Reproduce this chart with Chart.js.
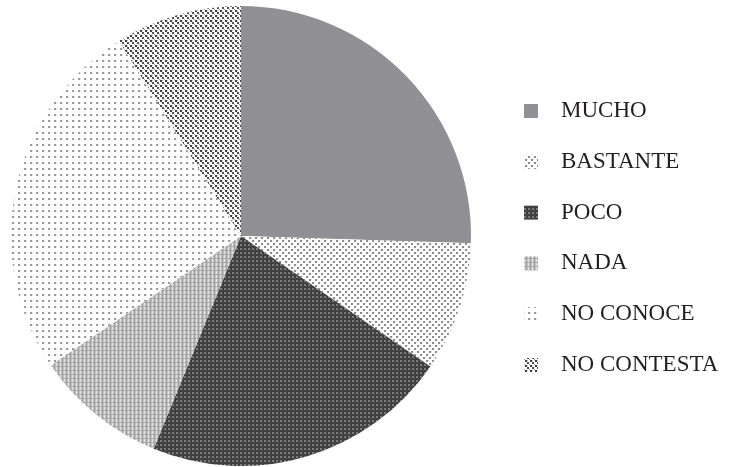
<!DOCTYPE html>
<html>
<head>
<meta charset="utf-8">
<script src="https://cdn.jsdelivr.net/npm/chart.js@4.4.0/dist/chart.umd.min.js"></script>
<style>
  body { margin: 0; background: #fff; }
  #wrap { width: 729px; height: 467px; position: relative; }
</style>
</head>
<body>
<div id="wrap"><canvas id="grafico"></canvas></div>
<script>
// datos (porcentajes aproximados)
var categorias = ['MUCHO', 'BASTANTE', 'POCO', 'NADA', 'NO CONOCE', 'NO CONTESTA'];
var valores = [25.5, 9.1, 21.6, 9.3, 25.6, 8.9];

// tramas tipo semitono, como en el original impreso
function crearTrama(tam, fondo, puntos) {
    var c = document.createElement('canvas');
    c.width = tam;
    c.height = tam;
    var g = c.getContext('2d');
    g.fillStyle = fondo;
    g.fillRect(0, 0, tam, tam);
    puntos.forEach(function (p) {
        g.fillStyle = p[4];
        g.fillRect(p[0], p[1], p[2], p[3]);
    });
    return g.createPattern(c, 'repeat');
}

var ctx = document.getElementById('grafico').getContext('2d');

var tramas = [
    // MUCHO - gris medio fino
    crearTrama(2, '#8b8b8f', [[0, 0, 1, 1, '#96969a'], [1, 1, 1, 1, '#96969a']]),
    // BASTANTE - puntos grises en diagonal
    crearTrama(6, '#ffffff', [[0, 0, 2, 2, '#8c8c8c'], [3, 3, 2, 2, '#8c8c8c'], [2, 0, 1, 1, '#e4e4e4'], [5, 3, 1, 1, '#e4e4e4']]),
    // POCO - oscuro con puntos claros
    crearTrama(4, '#3e3e3e', [[0, 0, 2, 2, '#7c7c7c'], [2, 2, 1, 1, '#5a5a5a']]),
    // NADA - malla gris clara
    crearTrama(4, '#c4c4c4', [[0, 0, 1, 4, '#e6e6e6'], [2, 0, 1, 4, '#9c9c9c'], [0, 2, 4, 1, '#a8a8a8']]),
    // NO CONOCE - puntos grises espaciados
    crearTrama(6, '#ffffff', [[0, 0, 2, 2, '#9a9a9a'], [2, 0, 1, 2, '#e8e8e8']]),
    // NO CONTESTA - puntos oscuros sobre blanco
    crearTrama(5, '#ffffff', [[0, 0, 2, 2, '#404040'], [2, 2, 2, 2, '#505050'], [4, 4, 1, 1, '#9a9a9a'], [2, 0, 1, 1, '#c0c0c0']])
];

// leyenda propia a la derecha (la del chart centra mal la torta)
var leyendaDerecha = {
    id: 'leyendaDerecha',
    afterDraw: function (chart) {
        var c = chart.ctx;
        var etiquetas = chart.data.labels;
        var fondos = chart.data.datasets[0].backgroundColor;
        c.save();
        c.font = '23px "Liberation Serif", "Times New Roman", serif';
        c.textBaseline = 'alphabetic';
        c.textAlign = 'left';
        etiquetas.forEach(function (texto, i) {
            var base = 117 + i * 50.8;
            c.fillStyle = fondos[i];
            c.fillRect(524, base - 13, 14, 14);
            c.fillStyle = '#231f20';
            c.fillText(texto, 561, base);
        });
        c.restore();
    }
};

var myChart = new Chart(ctx, {
    type: 'pie',
    data: {
        labels: categorias,
        datasets: [{
            data: valores,
            backgroundColor: tramas,
            borderWidth: 0
        }]
    },
    options: {
        responsive: true,
        maintainAspectRatio: false,
        animation: false,
        layout: {
            padding: { left: 11, right: 258, top: 6, bottom: 1 }
        },
        plugins: {
            legend: { display: false },
            tooltip: { enabled: false }
        }
    },
    plugins: [leyendaDerecha]
});
</script>
</body>
</html>
